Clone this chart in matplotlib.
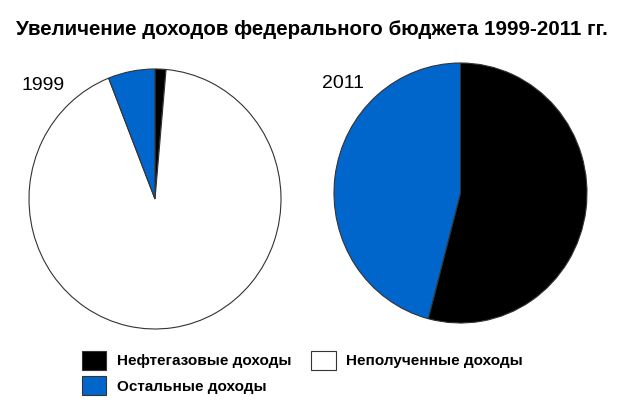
import matplotlib
matplotlib.use("Agg")
import matplotlib.pyplot as plt
from matplotlib.patches import Patch

plt.rcParams['font.family'] = ['Liberation Sans', 'DejaVu Sans']

title = "Увеличение доходов федерального бюджета 1999-2011 гг."
categories = ["Нефтегазовые доходы", "Остальные доходы", "Неполученные доходы"]
colors = {"Нефтегазовые доходы": "#000000",
          "Остальные доходы": "#0066CC",
          "Неполученные доходы": "#FFFFFF"}
values_1999 = {"Нефтегазовые доходы": 1.4, "Остальные доходы": 6.0,
               "Неполученные доходы": 92.6}
values_2011 = {"Нефтегазовые доходы": 54.1, "Остальные доходы": 45.9,
               "Неполученные доходы": 0.0}
years = ["1999", "2011"]

# clockwise drawing order from 12 o'clock
pie_order = ["Нефтегазовые доходы", "Неполученные доходы", "Остальные доходы"]

W, H = 620, 413
fig = plt.figure(figsize=(W / 100, H / 100), dpi=100)
fig.patch.set_facecolor("white")

def px_axes(x0, y0, x1, y1):
    return fig.add_axes([x0 / W, 1 - y1 / H, (x1 - x0) / W, (y1 - y0) / H])

boxes = [(29, 69, 281, 329), (334, 63, 587, 323)]
for vals, box in zip([values_1999, values_2011], boxes):
    ax = px_axes(*box)
    keys = [k for k in pie_order if vals[k] > 0]
    ax.pie([vals[k] for k in keys], colors=[colors[k] for k in keys],
           startangle=90, counterclock=False,
           wedgeprops=dict(edgecolor="#333333", linewidth=0.8))
    ax.set_xlim(-1.0, 1.0)
    ax.set_ylim(-1.0, 1.0)
    ax.set_aspect("auto")
    ax.axis("off")
    for p in ax.patches:
        p.set_clip_on(False)

fig.text(21 / W, 1 - 86 / H, years[0], fontsize=14, va="center", ha="left")
fig.text(322 / W, 1 - 83 / H, years[1], fontsize=14, va="center", ha="left")

fig.text(312 / W, 1 - 35 / H, title, fontsize=14.8, fontweight="bold",
         ha="center", va="baseline")

leg_order = ["Нефтегазовые доходы", "Остальные доходы", "Неполученные доходы"]
handles = [Patch(facecolor=colors[k], edgecolor="#333333", linewidth=0.8)
           for k in leg_order]
leg = fig.legend(handles, leg_order, ncol=2, loc="upper left",
                 bbox_to_anchor=(68 / W, 1 - 337 / H), frameon=False,
                 prop=dict(size=11, weight="bold"), handlelength=1.6,
                 handleheight=1.55, handletextpad=0.7, columnspacing=1.3,
                 labelspacing=0.4)

fig.savefig("out.png", dpi=100, facecolor="white")
